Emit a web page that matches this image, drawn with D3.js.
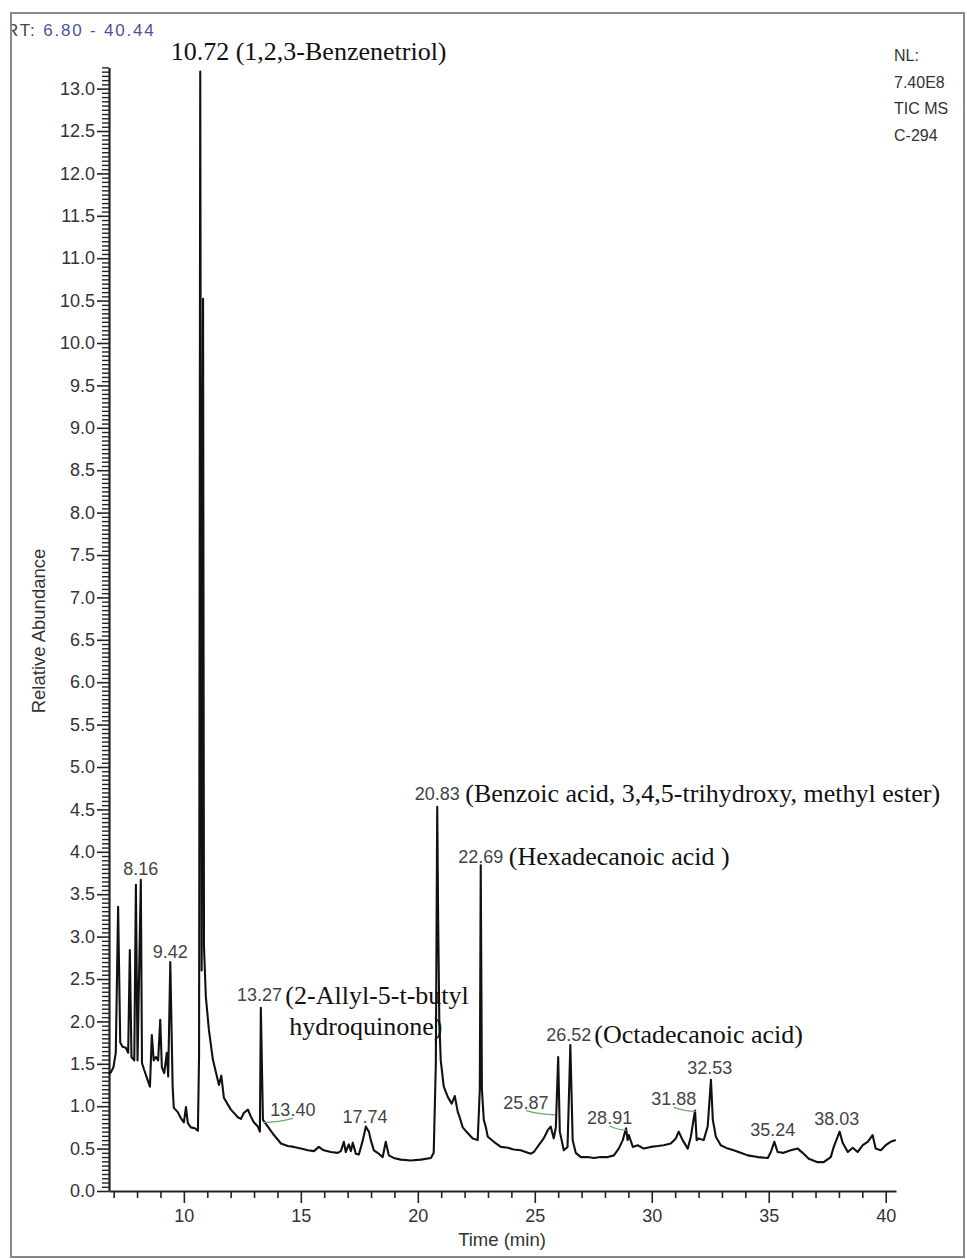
<!DOCTYPE html>
<html>
<head>
<meta charset="utf-8">
<script src="https://cdn.jsdelivr.net/npm/d3@7"></script>
<style>
  body { margin: 0; background: #fff; }
  svg text { font-family: "Liberation Sans", Arial, sans-serif; }
  svg .serif { font-family: "Liberation Serif", "Times New Roman", serif; }
</style>
</head>
<body>
<div id="chart"></div>
<script>
// chromatogram trace
var rt = [
  6.80, 6.88, 6.99, 7.09, 7.19, 7.28, 7.38, 7.52, 7.62, 7.69, 7.76, 7.88, 7.95, 8.02, 8.16, 8.21,
  8.30, 8.45, 8.55, 8.63, 8.71, 8.80, 8.90, 8.99, 9.06, 9.16, 9.27, 9.33, 9.42, 9.52, 9.57, 9.74,
  9.87, 10.00, 10.09, 10.17, 10.30, 10.47, 10.60, 10.65, 10.70, 10.76, 10.82, 10.86, 10.94, 11.07,
  11.24, 11.37, 11.50, 11.60, 11.71, 12.01, 12.31, 12.44, 12.56, 12.74, 12.86, 12.99, 13.16, 13.25,
  13.29, 13.38, 13.59, 13.85, 14.15, 14.44, 14.70, 15.00, 15.30, 15.56, 15.77, 15.98, 16.28, 16.58,
  16.71, 16.84, 16.92, 17.05, 17.14, 17.22, 17.35, 17.48, 17.65, 17.78, 17.86, 17.91, 17.99, 18.12,
  18.33, 18.50, 18.63, 18.76, 18.97, 19.27, 19.70, 20.13, 20.56, 20.68, 20.77, 20.83, 20.87, 20.92,
  20.98, 21.11, 21.28, 21.45, 21.58, 21.71, 21.79, 21.92, 22.14, 22.35, 22.56, 22.65, 22.69, 22.74,
  22.82, 22.91, 22.99, 23.25, 23.55, 23.85, 24.10, 24.40, 24.70, 24.83, 24.96, 25.17, 25.38, 25.56,
  25.68, 25.81, 25.90, 26.00, 26.07, 26.24, 26.40, 26.52, 26.62, 26.75, 26.97, 27.26, 27.52, 27.82,
  28.12, 28.38, 28.59, 28.76, 28.90, 28.97, 29.02, 29.19, 29.40, 29.66, 29.96, 30.26, 30.51, 30.81,
  31.03, 31.15, 31.32, 31.54, 31.67, 31.85, 31.92, 32.01, 32.22, 32.39, 32.53, 32.61, 32.74, 32.95,
  33.25, 33.50, 33.80, 34.10, 34.53, 34.96, 35.09, 35.24, 35.38, 35.64, 35.94, 36.24, 36.45, 36.71,
  37.09, 37.35, 37.65, 37.78, 38.03, 38.16, 38.38, 38.59, 38.80, 39.02, 39.23, 39.44, 39.57, 39.79,
  40.00, 40.21, 40.43
];
var abundance = [
  1.38, 1.40, 1.46, 1.63, 3.35, 1.75, 1.70, 1.69, 1.63, 2.84, 1.58, 1.54, 3.61, 1.54, 3.67, 1.51,
  1.43, 1.31, 1.23, 1.84, 1.54, 1.58, 1.54, 2.02, 1.46, 1.39, 1.63, 1.35, 2.70, 1.23, 0.98, 0.93,
  0.86, 0.81, 0.99, 0.80, 0.75, 0.74, 0.71, 1.60, 13.20, 2.60, 10.52, 2.88, 2.29, 1.90,
  1.55, 1.40, 1.25, 1.36, 1.10, 0.96, 0.87, 0.85, 0.92, 0.96, 0.88, 0.81, 0.76, 0.70,
  2.16, 0.84, 0.76, 0.66, 0.56, 0.53, 0.52, 0.50, 0.48, 0.47, 0.52, 0.48, 0.46, 0.45,
  0.47, 0.58, 0.46, 0.55, 0.47, 0.57, 0.44, 0.43, 0.60, 0.76, 0.72, 0.70, 0.60, 0.48,
  0.44, 0.40, 0.58, 0.42, 0.39, 0.37, 0.36, 0.37, 0.39, 0.45, 1.50, 4.53, 3.20, 2.00,
  1.54, 1.23, 1.11, 1.03, 1.12, 0.93, 0.87, 0.75, 0.68, 0.62, 0.60, 1.20, 3.84, 1.20,
  0.84, 0.75, 0.64, 0.58, 0.52, 0.51, 0.49, 0.48, 0.45, 0.44, 0.46, 0.54, 0.62, 0.72,
  0.76, 0.62, 0.75, 1.58, 0.70, 0.48, 0.52, 1.72, 0.60, 0.45, 0.40, 0.40, 0.39, 0.40,
  0.40, 0.42, 0.50, 0.60, 0.74, 0.60, 0.66, 0.52, 0.54, 0.50, 0.52, 0.53, 0.54, 0.56,
  0.62, 0.70, 0.60, 0.50, 0.64, 0.95, 0.60, 0.62, 0.60, 0.76, 1.31, 0.84, 0.64, 0.54,
  0.50, 0.48, 0.45, 0.42, 0.40, 0.39, 0.46, 0.58, 0.46, 0.45, 0.48, 0.50, 0.45, 0.38,
  0.34, 0.34, 0.40, 0.52, 0.70, 0.57, 0.46, 0.51, 0.46, 0.54, 0.58, 0.66, 0.50, 0.48,
  0.54, 0.58, 0.60
];

// labelled retention times
var peakRT = [8.16, 9.42, 13.27, 13.40, 17.74, 20.83, 22.69, 25.87, 26.52, 28.91, 31.88, 32.53, 35.24, 38.03];
var peakText = ["8.16", "9.42", "13.27", "13.40", "17.74", "20.83", "22.69", "25.87", "26.52", "28.91", "31.88", "32.53", "35.24", "38.03"];
var markedRT = [13.40, 25.87, 28.91, 31.88]; // those with a green marker line

var compoundRT = [10.72, 13.27, 20.83, 22.69, 26.52];
var compoundName = [
  ["10.72 (1,2,3-Benzenetriol)"],
  ["(2-Allyl-5-t-butyl", "hydroquinone)"],
  ["(Benzoic acid, 3,4,5-trihydroxy, methyl ester)"],
  ["(Hexadecanoic acid )"],
  ["(Octadecanoic acid)"]
];

var yTickValues = [0.0, 0.5, 1.0, 1.5, 2.0, 2.5, 3.0, 3.5, 4.0, 4.5, 5.0, 5.5, 6.0, 6.5,
  7.0, 7.5, 8.0, 8.5, 9.0, 9.5, 10.0, 10.5, 11.0, 11.5, 12.0, 12.5, 13.0];
var xTickValues = [10, 15, 20, 25, 30, 35, 40];
var rtRange = [6.80, 40.44];
var infoLines = ["NL:", "7.40E8", "TIC  MS", "C-294"];

var width = 967, height = 1259;
var plot = { left: 109, right: 896, top: 67.4, bottom: 1191 };

// label placement, in data units: [centre rt, baseline abundance]
var labelAt = {
  8.16: [8.16, 3.73], 9.42: [9.42, 2.75], 13.27: [13.23, 2.24], 13.40: [14.66, 0.88],
  17.74: [17.74, 0.80], 20.83: [20.83, 4.61], 22.69: [22.69, 3.87], 25.87: [24.62, 0.97],
  26.52: [26.45, 1.77], 28.91: [28.20, 0.79], 31.88: [30.94, 1.01], 32.53: [32.48, 1.38],
  35.24: [35.17, 0.65], 38.03: [37.91, 0.78]
};
// compound names: [dx from peak in px, baseline abundance]
var nameAt = {
  10.72: [-30, 13.34], 13.27: [25, 2.20], 20.83: [28, 4.59], 22.69: [28, 3.85], 26.52: [24, 1.75]
};

var x = d3.scaleLinear().domain(rtRange).range([plot.left, plot.right]);
var y = d3.scaleLinear().domain([0, 13.25]).range([plot.bottom, plot.top]);

var svg = d3.select("#chart").append("svg")
  .attr("width", width).attr("height", height)
  .style("background", "#fff");

// header text, partly hidden behind the frame
var rtText = svg.append("text").attr("x", 6).attr("y", 36)
  .style("font-size", "17px").style("letter-spacing", "1.8px");
rtText.append("tspan").attr("fill", "#444").text("RT: ");
rtText.append("tspan").attr("fill", "#4a5596").text("6.80 - 40.44");
svg.append("rect").attr("x", 0).attr("y", 0).attr("width", 10).attr("height", height).attr("fill", "#fff");

// frame
svg.append("rect")
  .attr("x", 11).attr("y", 13).attr("width", 953).attr("height", 1244)
  .attr("fill", "none").attr("stroke", "#8a8a8a").attr("stroke-width", 2);

svg.selectAll(".info").data(infoLines).enter().append("text")
  .attr("class", "info")
  .attr("x", 894).attr("y", (d, i) => 61 + i * 26.5)
  .attr("fill", "#333").style("font-size", "16px")
  .text((d) => d);

// axes
var minorY = d3.range(0, 13.2501, 0.05).filter((v) => Math.abs(v * 2 - Math.round(v * 2)) > 1e-6);
svg.append("g").attr("transform", `translate(${plot.left},0)`)
  .call(d3.axisLeft(y).tickValues(minorY).tickSize(7).tickSizeOuter(0).tickFormat(""))
  .call((g) => g.select(".domain").remove())
  .selectAll("line").attr("stroke", "#222").attr("stroke-width", 1.4);

var yAxis = svg.append("g").attr("transform", `translate(${plot.left},0)`)
  .call(d3.axisLeft(y).tickValues(yTickValues).tickSize(12).tickSizeOuter(0)
    .tickPadding(2).tickFormat(d3.format(".1f")));
yAxis.select(".domain").attr("stroke", "#222").attr("stroke-width", 2.2);
yAxis.selectAll("line").attr("stroke", "#222").attr("stroke-width", 1.6);
yAxis.selectAll("text").attr("fill", "#333").style("font-size", "18px");

var minorX = d3.range(7, 41, 1).filter((v) => v % 5 != 0 && v <= rtRange[1]);
svg.append("g").attr("transform", `translate(0,${plot.bottom})`)
  .call(d3.axisBottom(x).tickValues(minorX).tickSize(7).tickSizeOuter(0).tickFormat(""))
  .call((g) => g.select(".domain").remove())
  .selectAll("line").attr("stroke", "#222").attr("stroke-width", 1.6);

var xAxis = svg.append("g").attr("transform", `translate(0,${plot.bottom})`)
  .call(d3.axisBottom(x).tickValues(xTickValues).tickSize(12).tickSizeOuter(0).tickPadding(6));
xAxis.select(".domain").attr("stroke", "#222").attr("stroke-width", 2.2);
xAxis.selectAll("line").attr("stroke", "#222").attr("stroke-width", 1.6);
xAxis.selectAll("text").attr("fill", "#333").style("font-size", "18px");

svg.append("text")
  .attr("x", 502).attr("y", 1246).attr("text-anchor", "middle")
  .attr("fill", "#333").style("font-size", "18.5px")
  .text("Time (min)");

svg.append("text")
  .attr("transform", "translate(45,631) rotate(-90)")
  .attr("text-anchor", "middle")
  .attr("fill", "#333").style("font-size", "18.5px")
  .text("Relative Abundance");

// trace
var line = d3.line()
  .x((d, i) => x(rt[i]))
  .y((d, i) => y(abundance[i]));

svg.append("path")
  .attr("d", line(abundance))
  .attr("fill", "none")
  .attr("stroke", "#111")
  .attr("stroke-width", 2.1)
  .attr("stroke-linejoin", "round");

// green marker lines
svg.selectAll(".marker").data(markedRT).enter().append("path")
  .attr("class", "marker")
  .attr("d", (d) => {
    var lx = x(labelAt[d][0]), ly = y(labelAt[d][1]) + 2;
    var px = x(d), py = ly + 4;
    return `M${lx},${ly} Q${(lx + px) / 2},${ly + 4} ${px},${py}`;
  })
  .attr("fill", "none").attr("stroke", "#6aaa6a").attr("stroke-width", 1.3);

// peak labels
svg.selectAll(".peak").data(peakRT).enter().append("text")
  .attr("class", "peak")
  .attr("x", (d) => x(labelAt[d][0]))
  .attr("y", (d) => y(labelAt[d][1]))
  .attr("text-anchor", "middle")
  .attr("fill", "#444").style("font-size", "18px")
  .text((d, i) => peakText[i]);

// compound names
compoundRT.forEach((c, i) => {
  compoundName[i].forEach((s, j) => {
    svg.append("text")
      .attr("class", "serif")
      .attr("x", x(c) + nameAt[c][0] + j * 4)
      .attr("y", y(nameAt[c][1]) + j * 31)
      .attr("fill", "#111").style("font-size", "26px")
      .text(s);
  });
});
</script>
</body>
</html>
